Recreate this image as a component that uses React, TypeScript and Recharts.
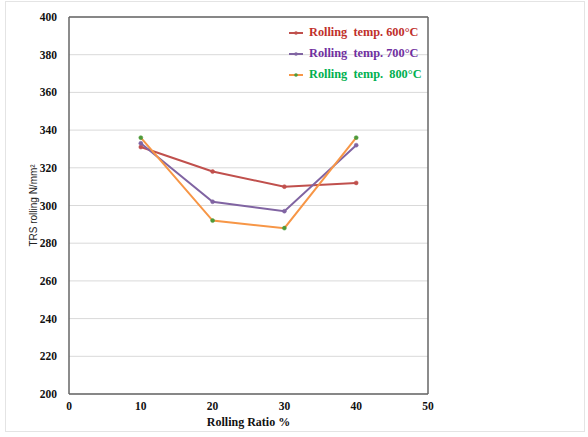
import React from 'react';
import {
  LineChart,
  Line,
  XAxis,
  YAxis,
  CartesianGrid,
  ReferenceLine,
} from 'recharts';

const ratios = [10, 20, 30, 40];
const temp600 = [331, 318, 310, 312];
const temp700 = [333, 302, 297, 332];
const temp800 = [336, 292, 288, 336];
const xTicks = [0, 10, 20, 30, 40, 50];
const yTicks = [200, 220, 240, 260, 280, 300, 320, 340, 360, 380, 400];

const series = [
  { key: 't600', name: 'Rolling  temp. 600°C', line: '#C0504D', dot: '#C0504D', text: '#C0302B' },
  { key: 't700', name: 'Rolling  temp. 700°C', line: '#8064A2', dot: '#8064A2', text: '#7030A0' },
  { key: 't800', name: 'Rolling  temp.  800°C', line: '#F79646', dot: '#4E9A3A', text: '#00B050' },
];

const data = ratios.map((r, i) => ({
  ratio: r,
  t600: temp600[i],
  t700: temp700[i],
  t800: temp800[i],
}));

const serif = '"Liberation Serif", "Times New Roman", serif';

function LegendBox() {
  return (
    <div
      style={{
        position: 'absolute',
        left: 288,
        top: 22,
        fontFamily: serif,
        fontWeight: 700,
        fontSize: 12.3,
      }}
    >
      {series.map(s => (
        <div key={s.key} style={{ display: 'flex', alignItems: 'center', height: 21 }}>
          <svg width={16} height={8} style={{ marginRight: 5 }}>
            <line x1={1} y1={4} x2={15} y2={4} stroke={s.line} strokeWidth={2} />
            <circle cx={8} cy={4} r={1.8} fill={s.dot} />
          </svg>
          <span style={{ color: s.text, whiteSpace: 'pre' }}>{s.name}</span>
        </div>
      ))}
    </div>
  );
}

export default function App() {
  return (
    <div style={{ position: 'absolute', left: 0, top: 0, width: 588, height: 437, background: '#fff' }}>
      <div
        style={{
          position: 'absolute',
          left: 5,
          top: 1,
          width: 580,
          height: 431,
          border: '1px solid #e4e4e4',
          boxSizing: 'border-box',
        }}
      />
      <LineChart
        width={588}
        height={437}
        data={data}
        margin={{ top: 17, right: 160, left: 0, bottom: 0 }}
      >
        <CartesianGrid vertical={false} stroke="#d9d9d9" strokeWidth={1} />
        <XAxis
          dataKey="ratio"
          type="number"
          domain={[0, 50]}
          ticks={xTicks}
          height={43}
          tickLine={false}
          axisLine={{ stroke: '#666', strokeWidth: 1.5 }}
          tick={{ fill: '#111', fontFamily: serif, fontWeight: 700, fontSize: 11.5 }}
          label={{
            value: 'Rolling Ratio %',
            position: 'insideBottom',
            offset: 11,
            fill: '#111',
            fontFamily: serif,
            fontWeight: 700,
            fontSize: 12,
          }}
        />
        <YAxis
          type="number"
          domain={[200, 400]}
          ticks={yTicks}
          width={69}
          tickLine={false}
          tickSize={10}
          axisLine={{ stroke: '#666', strokeWidth: 1.5 }}
          tick={{ fill: '#111', fontFamily: serif, fontWeight: 700, fontSize: 11.5 }}
          label={{
            value: 'TRS rolling N/mm²',
            angle: -90,
            position: 'insideLeft',
            offset: 33,
            style: { textAnchor: 'middle' },
            fill: '#222',
            fontFamily: '"Liberation Sans Narrow", "Liberation Sans", Arial, sans-serif',
            fontSize: 10,
          }}
        />
        <ReferenceLine y={400} stroke="#666" strokeWidth={1.5} />
        <ReferenceLine x={50} stroke="#666" strokeWidth={1.5} />
        {series.map(s => (
          <Line
            key={s.key}
            dataKey={s.key}
            name={s.name}
            stroke={s.line}
            strokeWidth={2}
            dot={{ r: 2, fill: s.dot, stroke: s.dot, strokeWidth: 0.5 }}
            activeDot={false}
            isAnimationActive={false}
          />
        ))}
      </LineChart>
      <LegendBox />
    </div>
  );
}
